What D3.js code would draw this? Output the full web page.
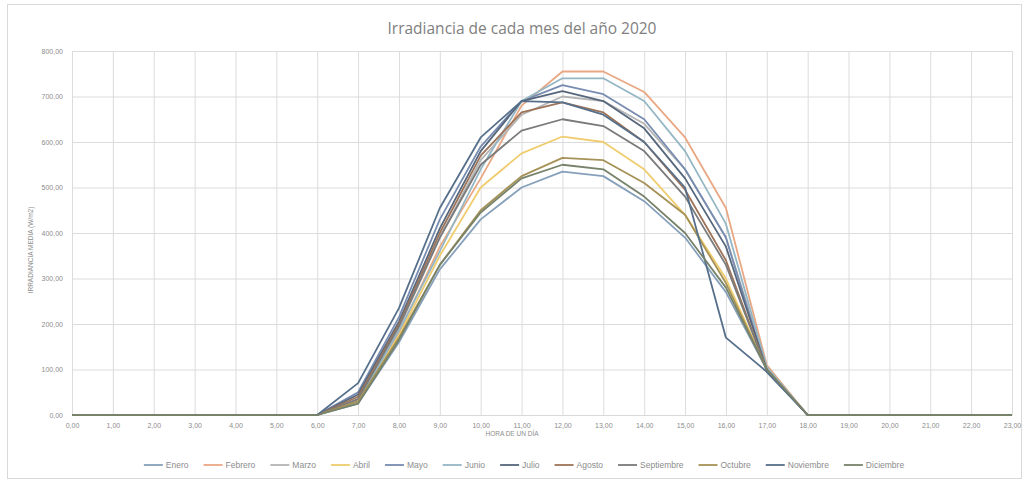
<!DOCTYPE html>
<html>
<head>
<meta charset="utf-8">
<script src="https://cdn.jsdelivr.net/npm/d3@7"></script>
<style>
  html, body { margin: 0; padding: 0; background: #fff; }
  svg { display: block; font-family: "Liberation Sans", Arial, sans-serif; }
</style>
</head>
<body>
<svg id="chart" width="1029" height="483"></svg>
<script>
// ---- data ----
const hours = ["0,00","1,00","2,00","3,00","4,00","5,00","6,00","7,00","8,00","9,00","10,00","11,00",
               "12,00","13,00","14,00","15,00","16,00","17,00","18,00","19,00","20,00","21,00","22,00","23,00"];
const yTicks = [0, 100, 200, 300, 400, 500, 600, 700, 800];
const months = ["Enero","Febrero","Marzo","Abril","Mayo","Junio","Julio","Agosto","Septiembre","Octubre","Noviembre","Diciembre"];
const colors = ["#86a0bb","#e9a883","#b4b4b4","#efcd6e","#778cb0","#95b6c4","#56667c","#9d7459","#7a7a7a","#a69256","#566f8a","#76826a"];

const enero      = [0,0,0,0,0,0,0, 25,160,320,430,500,535,525,470,390,270,100,0,0,0,0,0,0];
const febrero    = [0,0,0,0,0,0,0, 30,180,370,520,680,755,755,710,610,455,110,0,0,0,0,0,0];
const marzo      = [0,0,0,0,0,0,0, 35,190,390,560,660,700,690,640,540,390,105,0,0,0,0,0,0];
const abril      = [0,0,0,0,0,0,0, 30,175,350,500,575,612,600,540,440,300,100,0,0,0,0,0,0];
const mayo       = [0,0,0,0,0,0,0, 50,215,430,590,690,725,705,650,540,390, 95,0,0,0,0,0,0];
const junio      = [0,0,0,0,0,0,0, 30,185,360,540,690,740,740,690,580,420,105,0,0,0,0,0,0];
const julio      = [0,0,0,0,0,0,0, 45,205,410,580,690,712,690,630,520,370,100,0,0,0,0,0,0];
const agosto     = [0,0,0,0,0,0,0, 40,200,400,570,665,687,665,600,495,340,100,0,0,0,0,0,0];
const septiembre = [0,0,0,0,0,0,0, 35,195,390,550,625,650,635,580,480,330,100,0,0,0,0,0,0];
const octubre    = [0,0,0,0,0,0,0, 30,170,330,450,525,565,560,510,440,290,100,0,0,0,0,0,0];
const noviembre  = [0,0,0,0,0,0,0, 70,235,455,610,690,687,660,600,500,170, 95,0,0,0,0,0,0];
const diciembre  = [0,0,0,0,0,0,0, 25,165,330,445,520,550,540,480,400,280,100,0,0,0,0,0,0];

const seriesValues = [enero,febrero,marzo,abril,mayo,junio,julio,agosto,septiembre,octubre,noviembre,diciembre];

// ---- layout ----
const svg = d3.select("#chart");
const m = { left: 72, right: 1012, top: 51, bottom: 415 };

svg.append("rect").attr("x", 7.5).attr("y", 4.5).attr("width", 1014).attr("height", 474)
  .attr("fill", "#fff").attr("stroke", "#d9d9d9").attr("stroke-width", 1);

const x = d3.scalePoint().domain(hours).range([m.left, m.right]);
const y = d3.scaleLinear().domain([0, 800]).range([m.bottom, m.top]);

// gridlines
const gY = svg.append("g").attr("transform", `translate(${m.left},0)`)
  .call(d3.axisLeft(y).tickValues(yTicks).tickSize(-(m.right - m.left)).tickFormat(""));
gY.select(".domain").remove();
gY.selectAll("line").attr("stroke", "#dcdcdc").attr("stroke-width", 1);

const gX = svg.append("g").attr("transform", `translate(0,${m.top})`)
  .call(d3.axisTop(x).tickSize(-(m.bottom - m.top)).tickFormat(""));
gX.select(".domain").remove();
gX.selectAll("line").attr("stroke", "#dcdcdc").attr("stroke-width", 1);

// axis labels
const fmt = v => d3.format(".2f")(v).replace(".", ",");
const yAx = svg.append("g").attr("transform", `translate(${m.left},0)`)
  .call(d3.axisLeft(y).tickValues(yTicks).tickSize(0).tickPadding(9).tickFormat(fmt));
yAx.select(".domain").remove();
yAx.selectAll("text").attr("fill", "#8c8c8c").style("font-size", "7px");

const xAx = svg.append("g").attr("transform", `translate(0,${m.bottom})`)
  .call(d3.axisBottom(x).tickSize(0).tickPadding(8));
xAx.select(".domain").attr("stroke", "#d9d9d9");
xAx.selectAll("text").attr("fill", "#8c8c8c").style("font-size", "7px");

// lines
const line = d3.line().x((d, i) => x(hours[i])).y(d => y(d));
svg.append("g").selectAll("path").data(seriesValues).join("path")
  .attr("d", line).attr("fill", "none")
  .attr("stroke", (d, i) => colors[i]).attr("stroke-width", 1.8)
  .attr("stroke-linejoin", "round");

// titles
svg.append("text").attr("x", 522).attr("y", 34).attr("text-anchor", "middle")
  .attr("fill", "#808080").style("font-size", "15.5px").style("font-family", "'Open Sans', sans-serif")
  .text("Irradiancia de cada mes del año 2020");

svg.append("text").attr("x", 512).attr("y", 436).attr("text-anchor", "middle")
  .attr("fill", "#8c8c8c").style("font-size", "6.5px").text("HORA DE UN DÍA");

svg.append("text").attr("transform", "translate(33,250) rotate(-90)").attr("text-anchor", "middle")
  .attr("fill", "#8c8c8c").style("font-size", "6.5px").text("IRRADIANCIA MEDIA (W/m2)");

// legend
const lg = svg.append("g");
const items = lg.selectAll("g").data(months).join("g");
items.append("line").attr("x1", 0).attr("x2", 19).attr("y1", 0).attr("y2", 0)
  .attr("stroke", (d, i) => colors[i]).attr("stroke-width", 1.8);
items.append("text").attr("x", 22).attr("y", 3).attr("fill", "#8c8c8c")
  .style("font-size", "8.5px").text(d => d);
let cx = 0;
const offs = [];
const gap = 15;
items.each(function () {
  const w = 22 + this.querySelector("text").getComputedTextLength();
  offs.push(cx);
  cx += w + gap;
});
const total = cx - gap;
const start = 524 - total / 2;
items.attr("transform", (d, i) => `translate(${start + offs[i]},465)`);
</script>
</body>
</html>
